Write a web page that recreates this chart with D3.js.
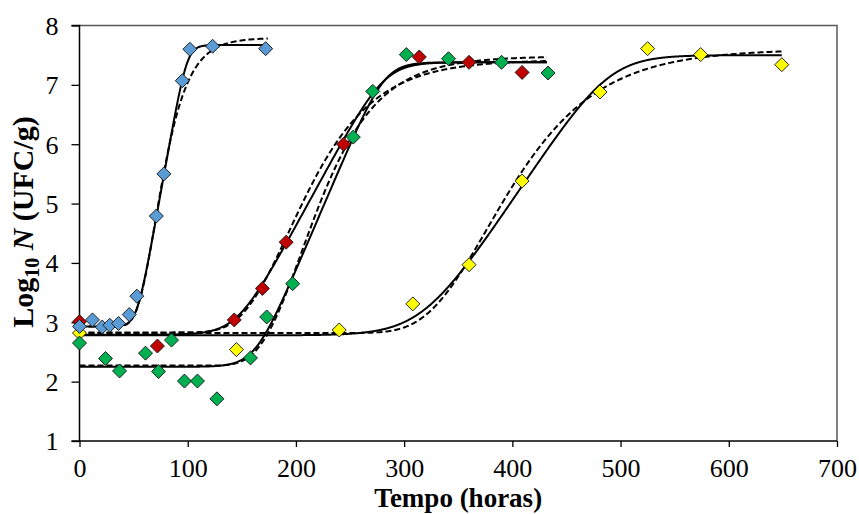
<!DOCTYPE html>
<html><head><meta charset="utf-8">
<script src="https://cdn.jsdelivr.net/npm/d3@7"></script>
<style>body{margin:0;background:#fff}</style>
</head><body>
<svg id="chart" width="859" height="514"></svg>
<script>
// ---- tick values ----
const xTicks = [0,100,200,300,400,500,600,700];
const yTicks = [1,2,3,4,5,6,7,8];

// ---- observed data (time in hours, log10 N) ----
const blueTime   = [0,12,21,28,36,46,53,71,78,95,102,123,172];
const blueLog    = [2.93,3.04,2.92,2.95,2.98,3.13,3.44,4.79,5.50,7.07,7.60,7.65,7.61];
const redTime    = [0,72,143,169,191,244,314,360,409];
const redLog     = [3.01,2.60,3.04,3.57,4.35,6.00,7.47,7.38,7.21];
const greenTime  = [0,24,37,61,73,85,97,109,127,158,173,197,253,271,302,341,390,433];
const greenLog   = [2.65,2.39,2.18,2.48,2.17,2.70,2.01,2.01,1.71,2.40,3.09,3.65,6.12,6.89,7.51,7.44,7.38,7.20];
const yellowTime = [0,145,240,308,360,409,481,525,574,649];
const yellowLog  = [2.82,2.54,2.87,3.31,3.97,5.38,6.88,7.61,7.51,7.34];

// ---- fitted model parameters ----
// Baranyi (solid): [y0, ymax, mu, lag, nu, kappa, tEnd]
const blueBaranyi   = [2.93, 7.67, 0.102, 53, 0.235, 1, 172];
const redBaranyi    = [2.79, 7.38, 0.0336, 145.5, 0.077, 1, 432];
const greenBaranyi  = [2.25, 7.38, 0.0427, 162, 0.098, 1, 432];
const yellowBaranyi = [2.78, 7.50, 0.0275, 317.5, 0.0458, 0.8, 649];
// Gompertz (dashed): [y0, ymax, mu, lag, tEnd]
const blueGompertz   = [2.93, 7.79, 0.107, 53.5, 174];
const redGompertz    = [2.83, 7.42, 0.039, 150, 432];
const greenGompertz  = [2.27, 7.48, 0.050, 167, 432];
const yellowGompertz = [2.82, 7.60, 0.0314, 320.8, 649];

const seriesColors = {blue:"#5B9BD5", red:"#C00000", green:"#00B050", yellow:"#FFFF00"};

function baranyi(t, p){
  const [y0,ymax,mu,lag,nu,kap] = p;
  const A = t + Math.log(Math.exp(-nu*t) + Math.exp(-nu*lag) - Math.exp(-nu*(t+lag)))/nu;
  const g = mu*A;
  return y0 + g - Math.log10(1 + (Math.pow(10,kap*g)-1)/Math.pow(10,kap*(ymax-y0)))/kap;
}
function gompertz(t, p){
  const [y0,ymax,mu,lag] = p;
  const C = ymax-y0;
  return y0 + C*Math.exp(-Math.exp(mu*Math.E/C*(lag-t)+1));
}

const svg = d3.select("#chart");
const x = d3.scaleLinear().domain([0,700]).range([79.5,837]);
const y = d3.scaleLinear().domain([1,8]).range([441,25.5]);

// plot-area border (gray, top & right)
svg.append("path")
  .attr("d", `M${x(0)},${y(8)}H${x(700)}V${y(1)}`)
  .attr("fill","none").attr("stroke","#595959").attr("stroke-width",1.5);

// curves
const line = d3.line().x(d=>x(d[0])).y(d=>y(d[1]));
function drawCurve(fn, p, tEnd, dashed){
  const pts = d3.range(0, tEnd+0.001, 0.5).map(t=>[t, fn(t,p)]);
  svg.append("path").attr("d", line(pts)).attr("fill","none")
    .attr("stroke","#000").attr("stroke-width",2)
    .attr("stroke-dasharray", dashed ? "6,3" : null);
}
[blueBaranyi, redBaranyi, greenBaranyi, yellowBaranyi].forEach(p=>drawCurve(baranyi,p,p[6],false));
[blueGompertz, redGompertz, greenGompertz, yellowGompertz].forEach(p=>drawCurve(gompertz,p,p[4],true));

// axes
const yAxis = svg.append("g").attr("transform",`translate(${x(0)},0)`)
  .call(d3.axisLeft(y).tickValues(yTicks).tickSize(8).tickPadding(13).tickFormat(d3.format("d")));
const xAxis = svg.append("g").attr("transform",`translate(0,${y(1)})`)
  .call(d3.axisBottom(x).tickValues(xTicks).tickSize(6).tickPadding(12).tickFormat(d3.format("d")));
[yAxis,xAxis].forEach(g=>{
  g.selectAll(".domain").attr("stroke","#000").attr("stroke-width",1.5);
  g.selectAll(".tick line").attr("stroke","#000").attr("stroke-width",1.3);
  g.selectAll("text").attr("font-family","'Liberation Serif','Times New Roman',serif")
    .attr("font-size",26).attr("fill","#000");
});
yAxis.selectAll(".domain").attr("d", `M-8,${y(8)}H0V${y(1)}H-8`);
xAxis.selectAll(".domain").attr("d", `M${x(0)},0H${x(700)}`);
yAxis.selectAll("text").attr("dy","0.34em");

// markers
const diamond = d3.symbol().type(d3.symbolSquare).size(98);
function drawPoints(ts, vs, color){
  svg.append("g").selectAll("path").data(d3.zip(ts,vs)).join("path")
    .attr("d", diamond)
    .attr("transform", d=>`translate(${x(d[0])},${y(d[1])}) rotate(45)`)
    .attr("fill", color).attr("stroke","#1a1a1a").attr("stroke-width",0.9);
}
drawPoints(yellowTime, yellowLog, seriesColors.yellow);
drawPoints(redTime, redLog, seriesColors.red);
drawPoints(greenTime, greenLog, seriesColors.green);
drawPoints(blueTime, blueLog, seriesColors.blue);

// axis titles
svg.append("text").attr("x", (x(0)+x(700))/2).attr("y", 507)
  .attr("text-anchor","middle").attr("font-family","'Liberation Serif','Times New Roman',serif")
  .attr("font-weight","bold").attr("font-size",27).text("Tempo (horas)");

const yt = svg.append("text").attr("transform","translate(33,222) rotate(-90)")
  .attr("text-anchor","middle").attr("font-family","'Liberation Serif','Times New Roman',serif")
  .attr("font-weight","bold").attr("font-size",30);
yt.append("tspan").text("Log");
yt.append("tspan").attr("font-size",20).attr("dy",6).text("10");
yt.append("tspan").attr("dy",-6).text(" ");
yt.append("tspan").attr("font-style","italic").text("N");
yt.append("tspan").text(" (UFC/g)");
</script>
</body></html>
